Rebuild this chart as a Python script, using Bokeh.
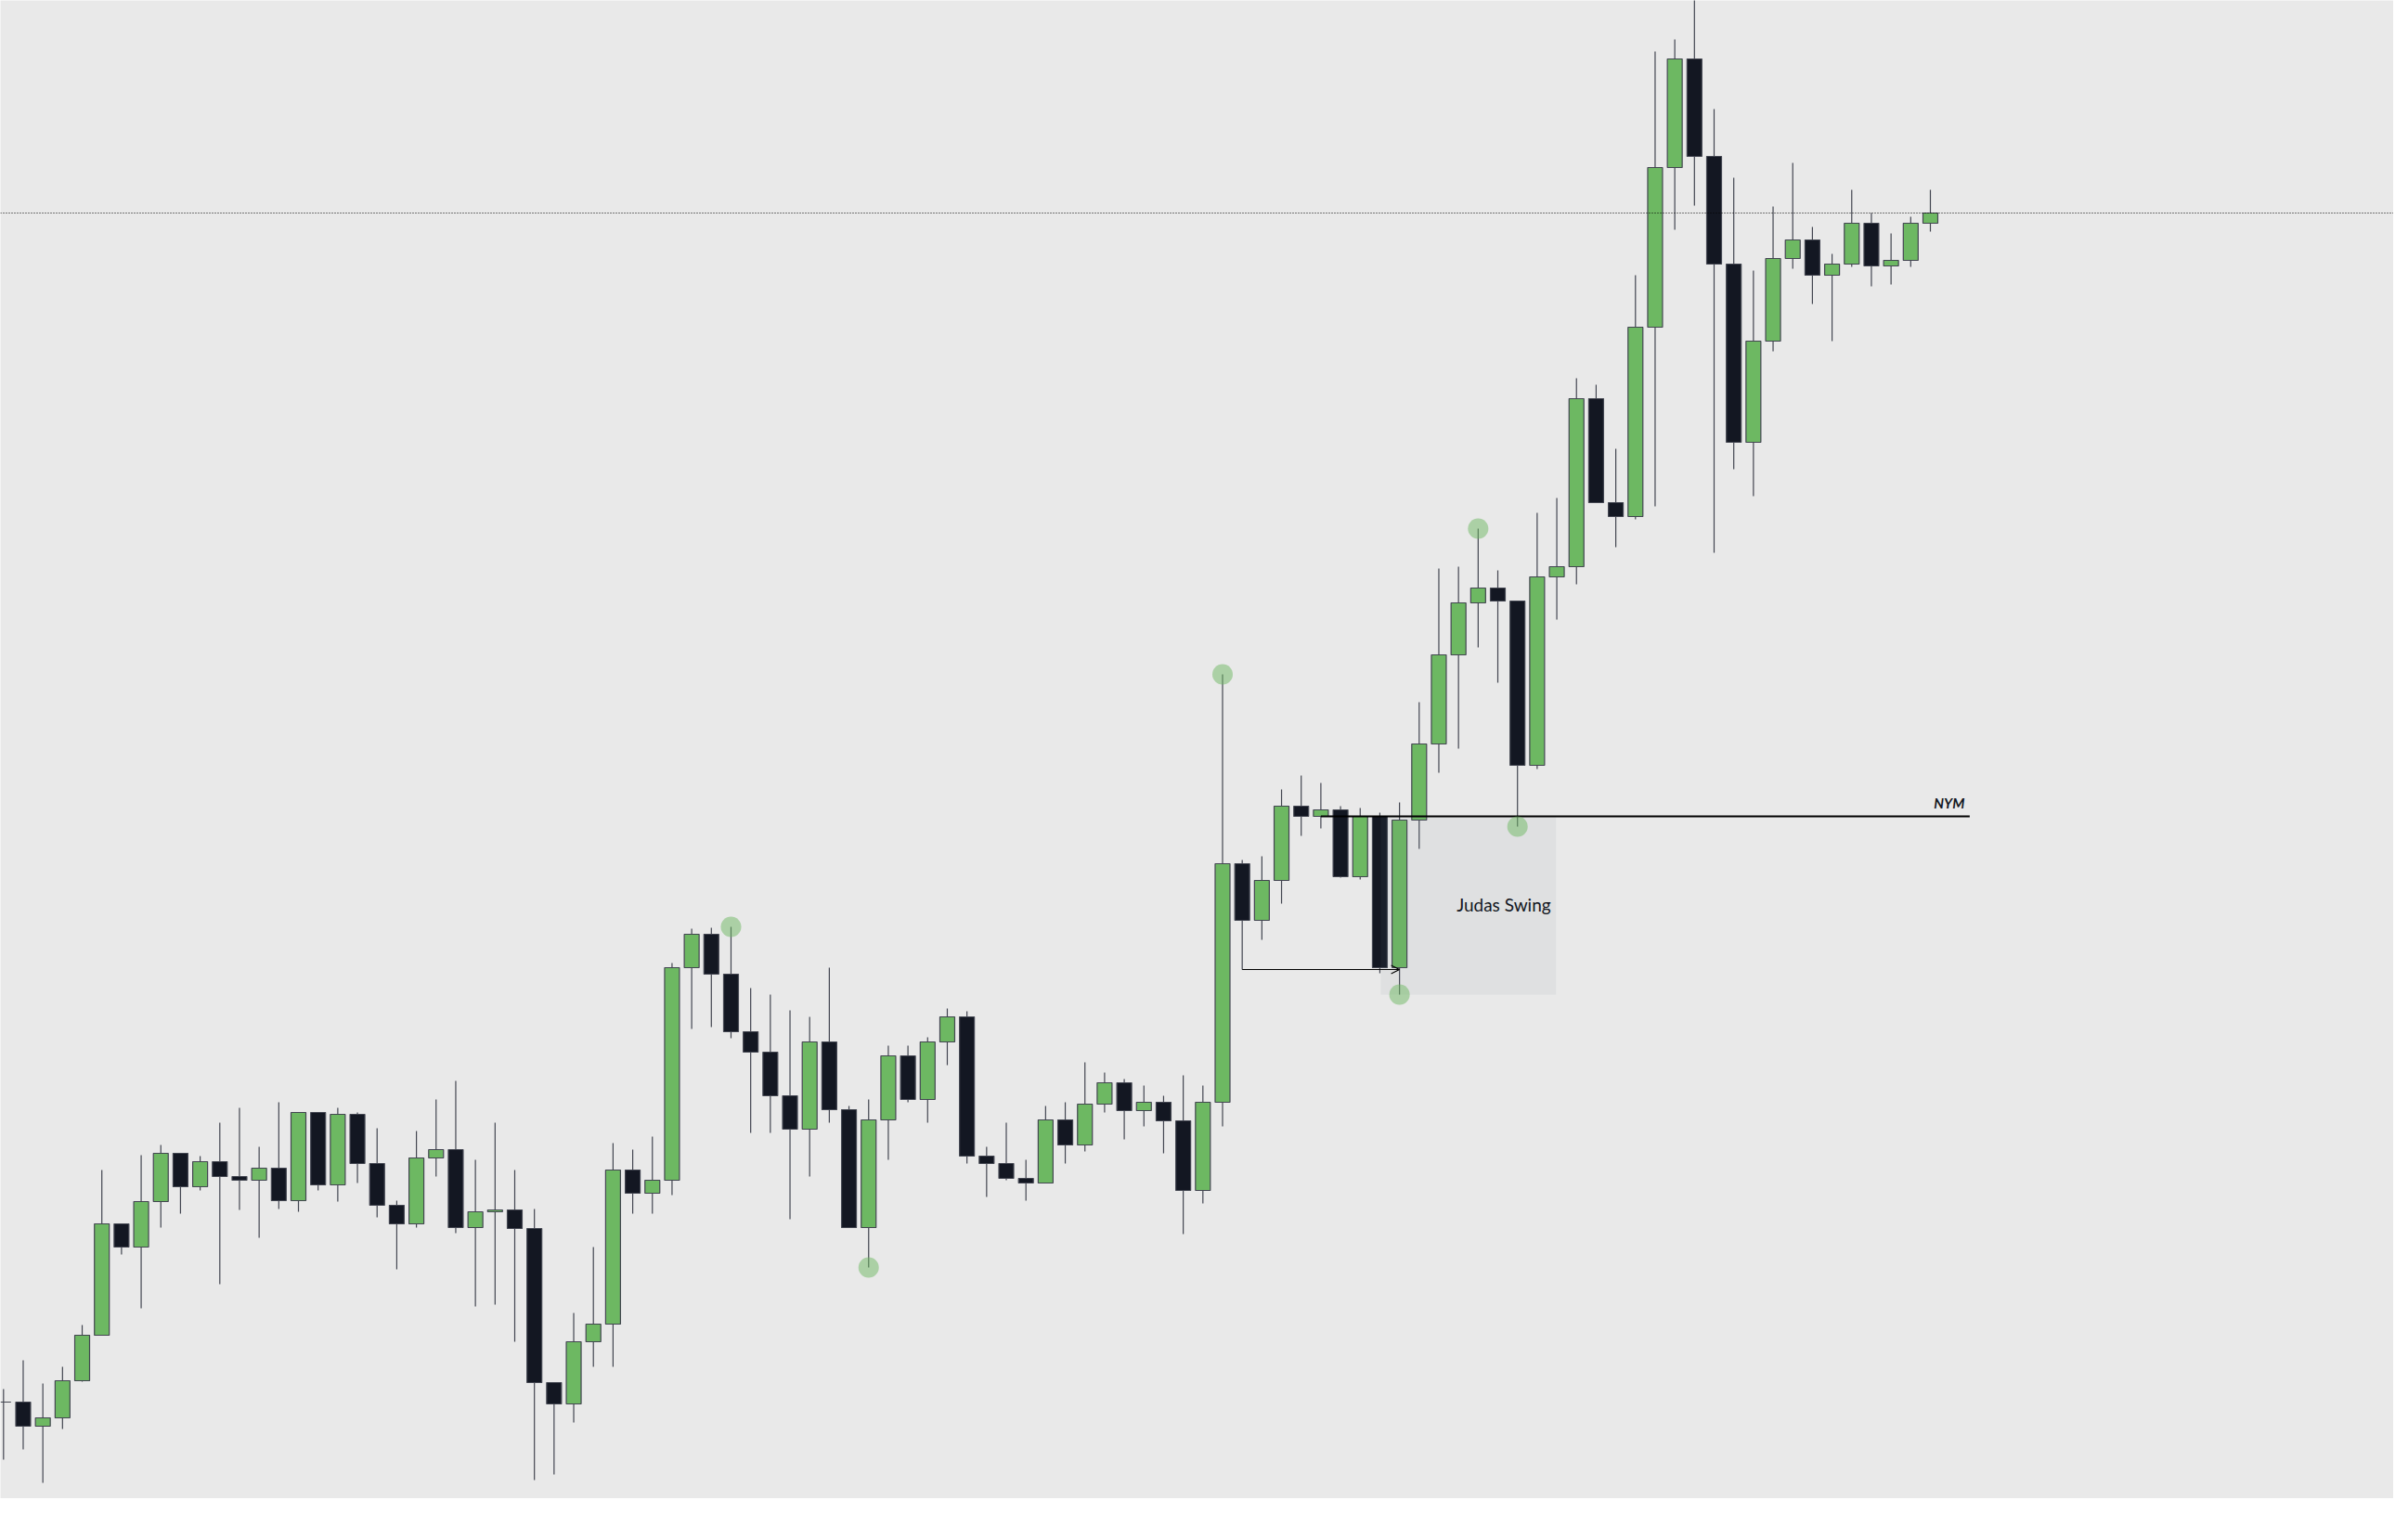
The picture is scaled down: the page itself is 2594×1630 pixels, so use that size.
from bokeh.plotting import figure
from bokeh.models import Range1d, Span, Arrow, OpenHead, ColumnDataSource
from bokeh.core.properties import value
from bokeh.embed import file_html
from bokeh.resources import INLINE

# ---- data (OHLC, arbitrary price units) ----
opens = [12.0, 12.0, 9.4, 10.3, 14.3, 19.2, 31.2, 28.7, 33.6, 38.8,
         35.2, 37.9, 36.3, 35.9, 37.2, 33.7, 43.2, 35.4, 43.0, 37.7,
         33.2, 31.2, 38.3, 39.2, 30.8, 32.5, 32.7, 30.7, 14.1, 11.8,
         18.5, 20.4, 37.0, 34.5, 35.9, 58.8, 62.4, 58.1, 51.9, 49.7,
         45.0, 41.4, 50.8, 43.5, 30.8, 42.4, 49.3, 44.6, 50.8, 53.5,
         38.5, 37.7, 36.1, 35.6, 42.4, 39.7, 44.1, 46.4, 43.4, 44.3,
         42.3, 34.8, 44.3, 70.0, 63.9, 68.2, 76.2, 75.1, 75.8, 68.6,
         75.1, 58.8, 74.7, 82.9, 92.5, 98.1, 99.7, 98.3, 80.6, 100.9,
         102.0, 120.1, 108.9, 107.4, 127.8, 145.0, 156.7, 146.2, 134.6, 115.4,
         126.3, 135.2, 137.2, 133.4, 134.6, 139.0, 134.4, 135.0, 139.0]
highs = [13.4, 16.5, 14.0, 15.8, 20.3, 37.0, 31.2, 38.6, 39.7, 38.8,
         38.5, 42.1, 43.7, 39.5, 44.3, 43.2, 43.2, 43.7, 43.2, 41.5,
         33.7, 41.2, 44.6, 46.6, 38.1, 42.1, 37.0, 32.8, 14.1, 21.6,
         28.7, 39.9, 39.2, 40.6, 59.3, 63.0, 63.1, 63.2, 56.6, 55.9,
         54.2, 53.5, 58.8, 43.9, 44.6, 50.4, 50.4, 51.3, 54.4, 54.1,
         39.5, 42.1, 38.1, 43.9, 44.3, 48.6, 47.5, 46.8, 46.1, 45.0,
         47.2, 46.1, 90.4, 70.4, 70.8, 78.0, 79.5, 78.7, 76.2, 76.0,
         75.5, 76.6, 87.4, 101.8, 102.0, 106.1, 101.6, 98.3, 107.8, 109.4,
         122.3, 121.6, 114.7, 133.4, 157.5, 158.8, 165.0, 151.3, 143.9, 133.9,
         140.8, 145.5, 138.6, 135.7, 142.6, 140.1, 137.9, 139.7, 142.6]
lows = [5.8, 6.9, 3.3, 9.1, 14.2, 19.2, 27.9, 22.1, 30.8, 32.3,
        34.8, 24.7, 32.7, 29.7, 32.8, 32.5, 34.8, 33.6, 35.6, 31.9,
        26.3, 30.8, 36.3, 30.2, 22.3, 22.5, 18.5, 3.6, 4.2, 9.8,
        15.8, 15.8, 32.3, 32.3, 34.3, 52.2, 52.4, 51.2, 41.0, 41.0,
        31.7, 36.3, 42.1, 30.8, 26.5, 38.1, 44.3, 42.1, 48.3, 37.7,
        34.1, 35.9, 33.7, 35.6, 37.7, 39.0, 43.2, 40.3, 41.7, 38.8,
        30.1, 33.4, 41.7, 58.6, 61.8, 65.7, 73.0, 73.8, 68.5, 68.3,
        58.2, 55.9, 71.6, 79.8, 82.4, 93.3, 89.5, 74.0, 80.2, 96.3,
        100.1, 108.9, 104.1, 107.1, 108.5, 138.3, 140.9, 103.5, 112.5, 109.6,
        125.2, 134.1, 130.3, 126.3, 134.3, 132.2, 132.4, 134.3, 138.1]
closes = [12.0, 9.4, 10.3, 14.3, 19.2, 31.2, 28.7, 33.6, 38.8, 35.2,
          37.9, 36.3, 35.9, 37.2, 33.7, 43.2, 35.4, 43.0, 37.7, 33.2,
          31.2, 38.3, 39.2, 30.8, 32.5, 32.7, 30.7, 14.1, 11.8, 18.5,
          20.4, 37.0, 34.5, 35.9, 58.8, 62.4, 58.1, 51.9, 49.7, 45.0,
          41.4, 50.8, 43.5, 30.8, 42.4, 49.3, 44.6, 50.8, 53.5, 38.5,
          37.7, 36.1, 35.6, 42.4, 39.7, 44.1, 46.4, 43.4, 44.3, 42.3,
          34.8, 44.3, 70.0, 63.9, 68.2, 76.2, 75.1, 75.8, 68.6, 75.1,
          58.8, 74.7, 82.9, 92.5, 98.1, 99.7, 98.3, 80.6, 100.9, 102.0,
          120.1, 108.9, 107.4, 127.8, 145.0, 156.7, 146.2, 134.6, 115.4, 126.3,
          135.2, 137.2, 133.4, 134.6, 139.0, 134.4, 135.0, 139.0, 140.1]

# annotation values
last_price = 140.1
nym_level = 75.1
nym_start, nym_end = 67, 100
judas_left, judas_right, judas_bottom, judas_top = 70.05, 78.96, 55.9, 75.1
arrow_from, arrow_to, arrow_level = 63, 71, 58.6
swing_idx = [37, 44, 62, 71, 75, 77]
swing_px = [63.2, 26.5, 90.4, 55.9, 106.1, 74.0]

BG = "#e9e9e9"
UP = "#6db862"
DOWN = "#131722"
EDGE = "#434651"

idx = list(range(len(opens)))
tops = [max(o, c) for o, c in zip(opens, closes)]
bots = [min(o, c) for o, c in zip(opens, closes)]
cols = [UP if c > o else DOWN for o, c in zip(opens, closes)]
src = ColumnDataSource(dict(x=idx, top=tops, bottom=bots, high=highs, low=lows, color=cols))

p = figure(width=2578, height=1614, output_backend="svg", toolbar_location=None,
           x_range=Range1d(-0.156, 121.56), y_range=Range1d(1.6, 163.0),
           min_border=0, x_axis_location=None, y_axis_location=None)
p.background_fill_color = BG
p.border_fill_color = BG
p.outline_line_color = None
p.grid.visible = False

p.segment(x0="x", y0="low", x1="x", y1="high", source=src, line_color=EDGE, line_width=1.2)
p.vbar(x="x", width=0.755, top="top", bottom="bottom", source=src,
       fill_color="color", line_color=EDGE, line_width=1.2)

# Judas swing box
p.quad(left=[judas_left], right=[judas_right], bottom=[judas_bottom], top=[judas_top],
       fill_color="#787b86", fill_alpha=0.08, line_color=None)

# NYM line
p.line(x=[nym_start, nym_end], y=[nym_level, nym_level], line_color="#000000", line_width=2.2)

# arrow
p.add_layout(Arrow(end=OpenHead(size=9, line_width=1.2, line_color="#000000"),
                   x_start=arrow_from, y_start=arrow_level, x_end=arrow_to, y_end=arrow_level,
                   line_color="#000000", line_width=1.2))

# swing dots
p.scatter(x=swing_idx, y=swing_px, size=22, marker="circle",
          fill_color="#6db862", fill_alpha=0.5, line_color=None)

# current price dotted line
p.add_layout(Span(location=last_price, dimension="width", line_color="#000000",
                  line_width=1, line_dash="1 2"))

# texts
p.text(x=[nym_end - 0.26], y=[nym_level + 1.45], text=["NYM"], text_align="right",
       text_baseline="alphabetic", text_font=value("Lato"), text_font_size="15px",
       text_font_style="bold italic", text_color="#131722")
p.text(x=[76.3], y=[65.6], text=["Judas Swing"], text_align="center",
       text_baseline="alphabetic", text_font=value("Lato"), text_font_size="19px",
       text_color="#131722")

open("out.html", "w").write(file_html(p, INLINE))
